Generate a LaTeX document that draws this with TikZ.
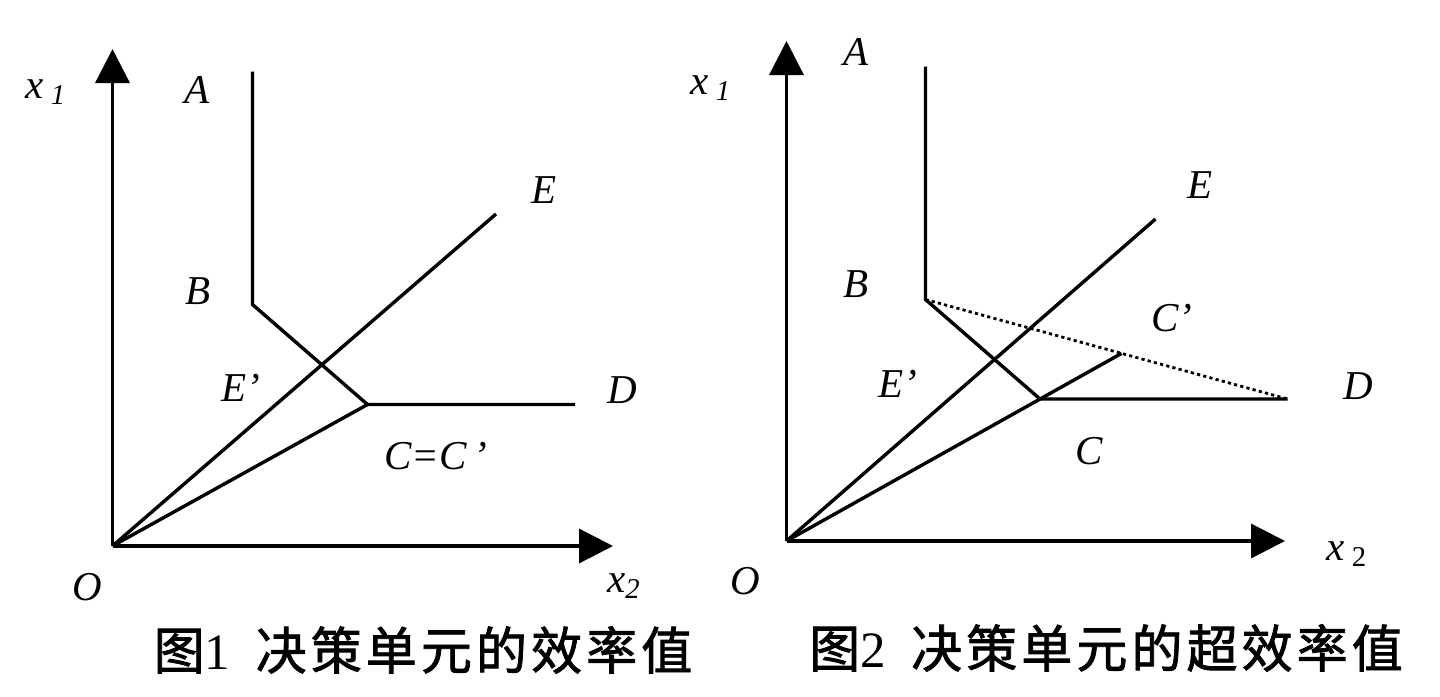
\documentclass[tikz,border=0pt]{standalone}
\usepackage{fontspec}
\setmainfont{Liberation Serif}
\newfontfamily\cjk[FakeBold=1.6]{Noto Sans CJK SC}
\usetikzlibrary{arrows.meta}
\tikzset{
  lbl/.style={font=\fontsize{20.5}{24}\selectfont\itshape},
  figcap/.style={font=\fontsize{25.5}{30}\selectfont},
  axis/.style={line width=1.7pt,-{Triangle[length=17pt,width=17pt]}},
  curve/.style={line width=1.7pt,line join=miter},
}
\newcommand{\capcjk}[1]{{\cjk\addfontfeatures{LetterSpace=8}#1}}
\begin{document}
\begin{tikzpicture}[x=0.5pt,y=-0.5pt]
  \useasboundingbox (0,0) rectangle (1440,696);
  % figure 1
  \coordinate (O1) at (112.5,546);
  \coordinate (Y1) at (112.5,49);
  \coordinate (X1) at (613,546);
  \coordinate (A1) at (252.5,71.5);
  \coordinate (B1) at (252.5,304.5);
  \coordinate (C1) at (367.5,404.5);
  \coordinate (D1) at (575,404.5);
  \coordinate (E1) at (496,214);
  \draw[axis] (O1) -- (Y1);
  \draw[axis] (O1) -- (X1);
  \draw[curve] (A1) -- (B1) -- (C1) -- (D1);
  \draw[curve] (O1) -- (E1);
  \draw[curve] (O1) -- (C1);
  \node[lbl] (lx11) at (46,92) {x\,\textsubscript{1}};
  \node[lbl] (lx21) at (624,586) {x\textsubscript{2}};
  \node[lbl] (lO1) at (87,587) {O};
  \node[lbl] (lA1) at (197,90) {A};
  \node[lbl] (lB1) at (198,291) {B};
  \node[lbl] (lE1) at (544,190) {E};
  \node[lbl] (lEp1) at (241,388) {E’};
  \node[lbl] (lD1) at (622,390) {D};
  \node[lbl] (lC1) at (436,456) {C=C\,’};
  % figure 2
  \coordinate (O2) at (786.5,541);
  \coordinate (Y2) at (786.5,41);
  \coordinate (X2) at (1285,541);
  \coordinate (A2) at (925.5,66.5);
  \coordinate (B2) at (925.5,299.5);
  \coordinate (C2) at (1040,399);
  \coordinate (D2) at (1287.5,399);
  \coordinate (E2) at (1155.5,219);
  \coordinate (Cp2) at (intersection of O2--C2 and B2--D2);
  \draw[axis] (O2) -- (Y2);
  \draw[axis] (O2) -- (X2);
  \draw[curve] (A2) -- (B2) -- (C2) -- (D2);
  \draw[curve] (O2) -- (E2);
  \draw[curve] (O2) -- (Cp2);
  \draw[line width=1.4pt,dash pattern=on 1.6pt off 1.6pt] (B2) -- (D2);
  \node[lbl] (lx12) at (711,88) {x\,\textsubscript{1}};
  \node[lbl] (lx22) at (1347,554) {x\,\textsubscript{\upshape 2}};
  \node[lbl] (lO2) at (745,581) {O};
  \node[lbl] (lA2) at (856,52) {A};
  \node[lbl] (lB2) at (856,284) {B};
  \node[lbl] (lE2) at (1200,185) {E};
  \node[lbl] (lEp2) at (898,384) {E’};
  \node[lbl] (lCp2) at (1172,318) {C’};
  \node[lbl] (lD2) at (1358,386) {D};
  \node[lbl] (lC2) at (1089,451) {C};
  % captions
  \node[figcap] (cap1) at (423,650) {\capcjk{图}1\hspace{0.5em}\capcjk{决策单元的效率值}};
  \node[figcap] (cap2) at (1106,648) {\capcjk{图}2\hspace{0.5em}\capcjk{决策单元的超效率值}};
\end{tikzpicture}
\end{document}
